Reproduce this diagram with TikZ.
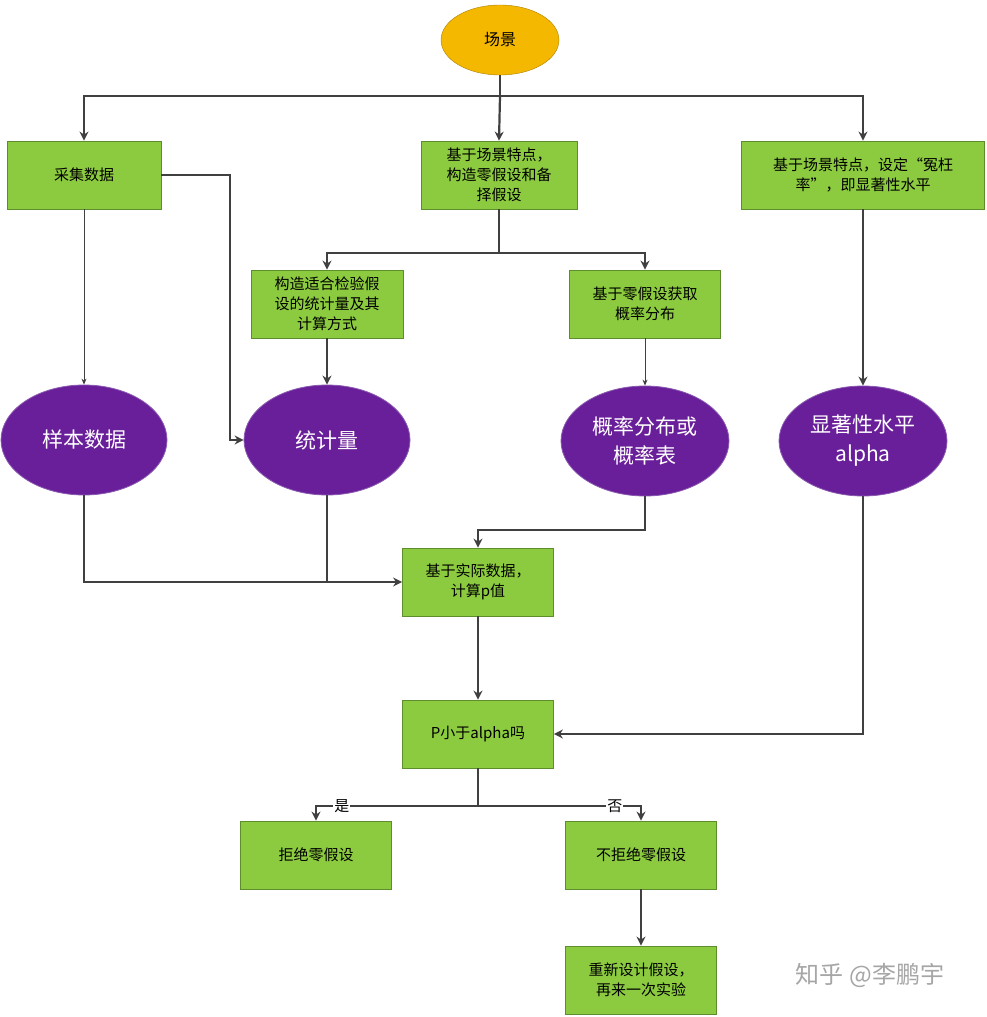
\documentclass[tikz,border=0pt]{standalone}
\usepackage{fontspec}
\setmainfont{Noto Sans CJK SC}
\usetikzlibrary{shapes.geometric,arrows.meta}
\definecolor{gfill}{HTML}{8CCB3F}
\definecolor{gline}{HTML}{5E8E2C}
\definecolor{pfill}{HTML}{6A1F9A}
\definecolor{pline}{HTML}{8A5AB0}
\definecolor{ofill}{HTML}{F5B800}
\definecolor{ln}{HTML}{404040}
\begin{document}
\begin{tikzpicture}[x=1pt,y=-1pt,
 box/.style={draw=gline,fill=gfill,minimum width=151pt,minimum height=68pt,align=center,font=\fontsize{15}{20}\selectfont,inner sep=2pt,line width=0.8pt},
 ell/.style={ellipse,draw=pline,fill=pfill,text=white,minimum width=166pt,minimum height=110pt,align=center,font=\fontsize{21}{29}\selectfont,line width=0.8pt},
 th/.style={draw=ln,line width=2.2pt,-{Stealth[length=9pt,width=9pt]}},
 tn/.style={draw=ln,line width=0.8pt,-{Stealth[length=6pt,width=5pt]}},
 thl/.style={draw=ln,line width=2.2pt}]
\useasboundingbox[fill=white] (0,0) rectangle (987,1017);
\node[ellipse,draw=ofill!70!black,fill=ofill,minimum width=118pt,minimum height=70pt,font=\fontsize{16}{18}\selectfont] (s) at (500,40) {场景};
\node[box,minimum width=154pt] (a) at (84,175) {采集数据};
\node[box,minimum width=156pt] (b) at (499,175) {基于场景特点，\\构造零假设和备\\择假设};
\node[box,minimum width=243pt] (c) at (863,175) {基于场景特点，设定“冤枉\\率”，即显著性水平};
\node[box,minimum width=152pt] (d) at (327,304) {构造适合检验假\\设的统计量及其\\计算方式};
\node[box] (e) at (645,304) {基于零假设获取\\概率分布};
\node[ell] (f) at (84,440) {样本数据};
\node[ell] (g) at (327,440) {统计量};
\node[ell,minimum width=168pt] (h) at (645,441) {概率分布或\\概率表};
\node[ell,minimum width=168pt] (i) at (863,441) {显著性水平\\alpha};
\node[box] (j) at (478,582) {基于实际数据，\\计算p值};
\node[box] (k) at (478,734) {P小于alpha吗};
\node[box] (l) at (316,855) {拒绝零假设};
\node[box] (m) at (641,855) {不拒绝零假设};
\node[box] (n) at (641,980) {重新设计假设，\\再来一次实验};
\node[text=gray!70,font=\fontsize{24}{28}\selectfont] (w) at (870,975) {知乎 @李鹏宇};
\coordinate (t) at (500,96);
\draw[thl] (s.south) -- (t);
\draw[th] (t) -- (b.north);
\draw[th] (t) -| (a.north);
\draw[th] (t) -| (c.north);
\coordinate (u) at (499,253);
\draw[thl] (b.south) -- (u);
\draw[th] (u) -| (d.north);
\draw[th] (u) -| (e.north);
\draw[tn] (a.south) -- (f.north);
\draw[th] (a.east) -- (230,175) |- (g.west);
\draw[th] (d.south) -- (g.north);
\draw[tn] (e.south) -- (h.north);
\draw[th] (c.south) -- (i.north);
\draw[th] (f.south) |- (j.west);
\draw[thl] (g.south) -- (327,583);
\draw[th] (h.south) -- (645,530) -| (j.north);
\draw[th] (j.south) -- (k.north);
\draw[th] (i.south) |- (k.east);
\coordinate (v) at (478,806);
\draw[thl] (k.south) -- (v);
\draw[th] (v) -| node[pos=0.42,font=\fontsize{15}{17}\selectfont,fill=white,inner sep=1pt]{是} (l.north);
\draw[th] (v) -| node[pos=0.42,font=\fontsize{15}{17}\selectfont,fill=white,inner sep=1pt]{否} (m.north);
\draw[th] (m.south) -- (n.north);
\end{tikzpicture}
\end{document}
